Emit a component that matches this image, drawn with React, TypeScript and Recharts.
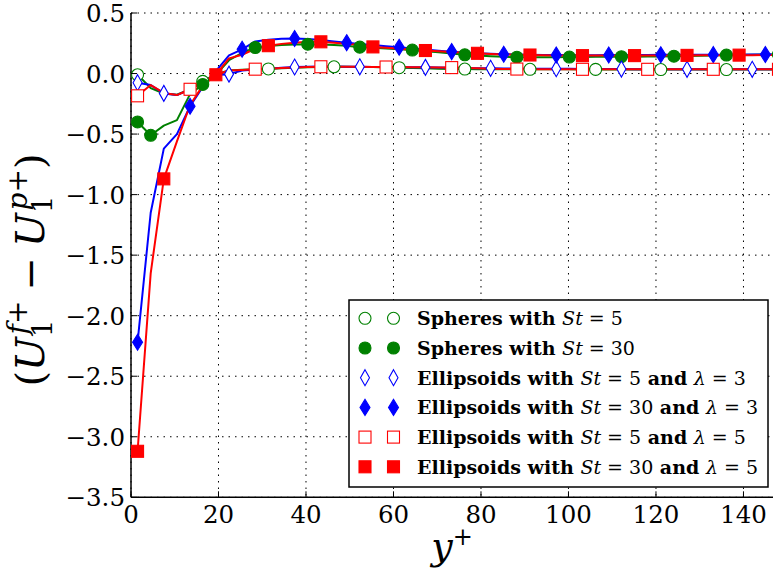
import React from 'react';
import { ComposedChart, Line, Scatter, XAxis, YAxis, CartesianGrid, Customized } from 'recharts';

// Wall-normal positions (y+) of the profile samples
const yPlus = [
  1.5, 4.5, 7.5, 10.5, 13.5, 16.4, 19.4, 22.4, 25.4, 28.4,
  31.4, 34.4, 37.4, 40.4, 43.4, 46.4, 49.3, 52.3, 55.3, 58.3,
  61.3, 64.3, 67.3, 70.3, 73.3, 76.3, 79.2, 82.2, 85.2, 88.2,
  91.2, 94.2, 97.2, 100.2, 103.2, 106.2, 109.2, 112.1, 115.1, 118.1,
  121.1, 124.1, 127.1, 130.1, 133.1, 136.1, 139.0, 142.0, 145.0, 148.0,
];

// Slip velocity (U1f+ - U1p+) for each particle set
const spheresSt5 = [
  -0.010, -0.120, -0.165, -0.175, -0.130, -0.065, -0.005, 0.025, 0.032, 0.035,
  0.038, 0.043, 0.048, 0.052, 0.055, 0.056, 0.056, 0.055, 0.053, 0.050,
  0.048, 0.046, 0.043, 0.040, 0.038, 0.037, 0.036, 0.036, 0.036, 0.036,
  0.035, 0.035, 0.035, 0.035, 0.034, 0.034, 0.034, 0.034, 0.033, 0.033,
  0.033, 0.033, 0.033, 0.033, 0.033, 0.033, 0.033, 0.033, 0.033, 0.033,
];
const spheresSt30 = [
  -0.400, -0.510, -0.430, -0.385, -0.170, -0.090, -0.010, 0.110, 0.170, 0.215,
  0.228, 0.236, 0.240, 0.242, 0.240, 0.236, 0.230, 0.218, 0.212, 0.206,
  0.200, 0.194, 0.185, 0.175, 0.165, 0.155, 0.148, 0.142, 0.138, 0.135,
  0.134, 0.134, 0.135, 0.136, 0.137, 0.138, 0.138, 0.139, 0.139, 0.140,
  0.141, 0.143, 0.145, 0.147, 0.150, 0.153, 0.155, 0.156, 0.157, 0.158,
];
const ellipsoidsSt5L3 = [
  -0.076, -0.095, -0.164, -0.178, -0.131, -0.068, -0.012, -0.005, 0.025, 0.033,
  0.040, 0.047, 0.054, 0.057, 0.058, 0.058, 0.057, 0.056, 0.055, 0.054,
  0.053, 0.052, 0.051, 0.049, 0.047, 0.045, 0.044, 0.043, 0.042, 0.041,
  0.040, 0.040, 0.040, 0.039, 0.038, 0.038, 0.037, 0.037, 0.036, 0.036,
  0.036, 0.035, 0.035, 0.035, 0.035, 0.035, 0.035, 0.035, 0.035, 0.035,
];
const ellipsoidsSt30L3 = [
  -2.220, -1.150, -0.620, -0.500, -0.270, -0.110, 0.020, 0.150, 0.200, 0.265,
  0.280, 0.288, 0.290, 0.285, 0.276, 0.265, 0.255, 0.245, 0.235, 0.226,
  0.217, 0.207, 0.198, 0.189, 0.181, 0.174, 0.168, 0.163, 0.159, 0.157,
  0.155, 0.154, 0.153, 0.153, 0.152, 0.152, 0.153, 0.153, 0.154, 0.154,
  0.155, 0.155, 0.155, 0.156, 0.156, 0.156, 0.156, 0.157, 0.157, 0.157,
];
const ellipsoidsSt5L5 = [
  -0.184, -0.095, -0.160, -0.178, -0.130, -0.068, -0.010, 0.025, 0.030, 0.036,
  0.040, 0.045, 0.050, 0.054, 0.056, 0.057, 0.057, 0.056, 0.055, 0.054,
  0.053, 0.052, 0.051, 0.050, 0.049, 0.046, 0.043, 0.040, 0.038, 0.037,
  0.036, 0.036, 0.035, 0.035, 0.035, 0.035, 0.035, 0.035, 0.035, 0.035,
  0.035, 0.035, 0.035, 0.035, 0.035, 0.035, 0.035, 0.035, 0.035, 0.035,
];
const ellipsoidsSt30L5 = [
  -3.120, -1.650, -0.870, -0.560, -0.260, -0.100, -0.010, 0.125, 0.155, 0.205,
  0.230, 0.245, 0.255, 0.262, 0.262, 0.255, 0.245, 0.235, 0.220, 0.212,
  0.205, 0.197, 0.190, 0.184, 0.178, 0.172, 0.167, 0.162, 0.158, 0.155,
  0.153, 0.151, 0.150, 0.149, 0.148, 0.148, 0.148, 0.148, 0.148, 0.149,
  0.149, 0.150, 0.150, 0.151, 0.151, 0.152, 0.152, 0.152, 0.153, 0.153,
];

// Sample indices that carry a marker
const marksSpheresSt5 = [0, 5, 10, 15, 20, 25, 30, 35, 40, 45];
const marksSpheresSt30 = [0, 1, 5, 9, 13, 17, 21, 25, 29, 33, 37, 41, 45, 49];
const marksEllSt5L3 = [0, 2, 7, 12, 17, 22, 27, 32, 37, 42, 47];
const marksEllSt30L3 = [0, 4, 8, 12, 16, 20, 24, 28, 32, 36, 40, 44, 48];
const marksEllSt5L5 = [0, 4, 9, 14, 19, 24, 29, 34, 39, 44, 49];
const marksEllSt30L5 = [0, 2, 6, 10, 14, 18, 22, 26, 30, 34, 38, 42, 46];

const xTicks = [0, 20, 40, 60, 80, 100, 120, 140];
const yTicks = [-3.5, -3, -2.5, -2, -1.5, -1, -0.5, 0, 0.5];

const GREEN = '#008000';
const BLUE = '#0000ff';
const RED = '#ff0000';
const FONT = 'DejaVu Serif';

type Shape = 'circle' | 'diamond' | 'square';

interface SeriesDef {
  key: string;
  values: number[];
  marks: number[];
  color: string;
  shape: Shape;
  filled: boolean;
  particle: string;
  st: string;
  lambda?: string;
}

const series: SeriesDef[] = [
  { key: 'sSt5', values: spheresSt5, marks: marksSpheresSt5, color: GREEN, shape: 'circle', filled: false, particle: 'Spheres', st: '5' },
  { key: 'sSt30', values: spheresSt30, marks: marksSpheresSt30, color: GREEN, shape: 'circle', filled: true, particle: 'Spheres', st: '30' },
  { key: 'e3St5', values: ellipsoidsSt5L3, marks: marksEllSt5L3, color: BLUE, shape: 'diamond', filled: false, particle: 'Ellipsoids', st: '5', lambda: '3' },
  { key: 'e3St30', values: ellipsoidsSt30L3, marks: marksEllSt30L3, color: BLUE, shape: 'diamond', filled: true, particle: 'Ellipsoids', st: '30', lambda: '3' },
  { key: 'e5St5', values: ellipsoidsSt5L5, marks: marksEllSt5L5, color: RED, shape: 'square', filled: false, particle: 'Ellipsoids', st: '5', lambda: '5' },
  { key: 'e5St30', values: ellipsoidsSt30L5, marks: marksEllSt30L5, color: RED, shape: 'square', filled: true, particle: 'Ellipsoids', st: '30', lambda: '5' },
];

const toRows = (values: number[]) => yPlus.map((x, i) => ({ x, v: values[i] }));

// Layout of the axes box
const CHART_W = 790;
const CHART_H = 570;
const MARGIN = { top: 13, right: 15.9, bottom: 32.7, left: 71 };
const TICK_LEN = 6;

function Marker({ cx, cy, shape, color, filled }: { cx: number; cy: number; shape: Shape; color: string; filled: boolean }) {
  const fill = filled ? color : '#ffffff';
  if (shape === 'circle') {
    return <circle cx={cx} cy={cy} r={6} fill={fill} stroke={color} strokeWidth={1.1} />;
  }
  if (shape === 'diamond') {
    const w = filled ? 5 : 4.5;
    const h = 8;
    return (
      <polygon
        points={`${cx},${cy - h} ${cx + w},${cy} ${cx},${cy + h} ${cx - w},${cy}`}
        fill={fill}
        stroke={color}
        strokeWidth={1.1}
      />
    );
  }
  const s = 6;
  return <rect x={cx - s} y={cy - s} width={2 * s} height={2 * s} fill={fill} stroke={color} strokeWidth={1.1} />;
}

const fmtY = (v: number) => (v < 0 ? '\u2212' : '') + Math.abs(v).toFixed(1);

function BottomTick(props: any) {
  const { x, y, payload } = props;
  return (
    <g>
      <line x1={x} x2={x} y1={y} y2={y - TICK_LEN} stroke="#000" strokeWidth={1} />
      <text x={x} y={y + 26} textAnchor="middle" fontFamily={FONT} fontSize={24.5} fill="#000">
        {String(payload.value)}
      </text>
    </g>
  );
}

function TopTick(props: any) {
  const { x, y } = props;
  return <line x1={x} x2={x} y1={y} y2={y + TICK_LEN} stroke="#000" strokeWidth={1} />;
}

function LeftTick(props: any) {
  const { x, y, payload } = props;
  return (
    <g>
      <line x1={x} x2={x + TICK_LEN} y1={y} y2={y} stroke="#000" strokeWidth={1} />
      <text x={x - 6} y={y + 9} textAnchor="end" fontFamily={FONT} fontSize={24.5} fill="#000">
        {fmtY(payload.value)}
      </text>
    </g>
  );
}

function RightTick(props: any) {
  const { x, y } = props;
  return <line x1={x} x2={x - TICK_LEN} y1={y} y2={y} stroke="#000" strokeWidth={1} />;
}

function LegendText({ s, x, y }: { s: SeriesDef; x: number; y: number }) {
  return (
    <text x={x} y={y} fontFamily={FONT} fontSize={19} fill="#000" style={{ whiteSpace: 'pre' }}>
      <tspan fontWeight="bold">{s.particle + ' with '}</tspan>
      <tspan fontStyle="italic">St</tspan>
      <tspan>{' = ' + s.st}</tspan>
      {s.lambda ? (
        <>
          <tspan fontWeight="bold">{' and '}</tspan>
          <tspan fontStyle="italic">{'\u03bb'}</tspan>
          <tspan>{' = ' + s.lambda}</tspan>
        </>
      ) : null}
    </text>
  );
}

function Decorations() {
  const boxX = 349;
  const boxY = 300;
  const rowY0 = 318.3;
  const rowStep = 29.7;
  return (
    <g>
      {/* y-axis title */}
      <g transform="translate(44,270) rotate(-90)">
        <text x={0} y={0} textAnchor="middle" fontFamily={FONT} fontSize={40} fill="#000" style={{ whiteSpace: 'pre' }}>
          <tspan>(</tspan>
          <tspan fontStyle="italic">U</tspan>
          <tspan fontSize={28} dy={8}>1</tspan>
          <tspan fontSize={28} fontStyle="italic" dx={-15} dy={-25}>f</tspan>
          <tspan fontSize={28}>+</tspan>
          <tspan dx={10} dy={17}>{'\u2212'}</tspan>
          <tspan dx={10} fontStyle="italic">U</tspan>
          <tspan fontSize={28} dy={8}>1</tspan>
          <tspan fontSize={28} fontStyle="italic" dx={-15} dy={-25}>p</tspan>
          <tspan fontSize={28}>+</tspan>
          <tspan dy={17}>)</tspan>
        </text>
      </g>
      {/* x-axis title */}
      <text x={452} y={559} textAnchor="middle" fontFamily={FONT} fontSize={38} fill="#000">
        <tspan fontStyle="italic">y</tspan>
        <tspan fontSize={24} dy={-14}>+</tspan>
      </text>
      {/* legend */}
      <rect x={boxX} y={boxY} width={419} height={187} fill="#ffffff" stroke="#000" strokeWidth={1.5} />
      {series.map((s, i) => {
        const cy = rowY0 + i * rowStep;
        return (
          <g key={s.key}>
            <Marker cx={365} cy={cy} shape={s.shape} color={s.color} filled={s.filled} />
            <Marker cx={393.5} cy={cy} shape={s.shape} color={s.color} filled={s.filled} />
            <LegendText s={s} x={417} y={cy + 7} />
          </g>
        );
      })}
    </g>
  );
}

export default function App() {
  return (
    <div style={{ position: 'absolute', left: 0, top: 0, width: 773, height: 570, overflow: 'hidden', background: '#ffffff' }}>
      <ComposedChart width={CHART_W} height={CHART_H} margin={MARGIN}>
        <CartesianGrid stroke="#000" strokeWidth={1} strokeDasharray="1.5 5" />
        <XAxis
          dataKey="x"
          type="number"
          domain={[0, 147]}
          allowDataOverflow
          ticks={xTicks}
          interval={0}
          height={40}
          tickSize={0}
          tickMargin={0}
          tickLine={false}
          axisLine={{ stroke: '#000', strokeWidth: 1.5 }}
          tick={<BottomTick />}
        />
        <XAxis
          xAxisId="top"
          orientation="top"
          dataKey="x"
          type="number"
          domain={[0, 147]}
          allowDataOverflow
          ticks={xTicks}
          interval={0}
          height={0}
          tickSize={0}
          tickMargin={0}
          tickLine={false}
          axisLine={{ stroke: '#000', strokeWidth: 1.5 }}
          tick={<TopTick />}
        />
        <YAxis
          type="number"
          domain={[-3.5, 0.5]}
          allowDataOverflow
          ticks={yTicks}
          interval={0}
          width={60}
          tickSize={0}
          tickMargin={0}
          tickLine={false}
          axisLine={{ stroke: '#000', strokeWidth: 1.5 }}
          tick={<LeftTick />}
        />
        <YAxis
          yAxisId="right"
          orientation="right"
          type="number"
          domain={[-3.5, 0.5]}
          allowDataOverflow
          ticks={yTicks}
          interval={0}
          width={0}
          tickSize={0}
          tickMargin={0}
          tickLine={false}
          axisLine={{ stroke: '#000', strokeWidth: 1.5 }}
          tick={<RightTick />}
        />
        {series.map((s) => (
          <Line
            key={'line-' + s.key}
            data={toRows(s.values)}
            dataKey="v"
            type="linear"
            stroke={s.color}
            strokeWidth={2}
            strokeLinejoin="round"
            dot={false}
            activeDot={false}
            isAnimationActive={false}
          />
        ))}
        {series.map((s) => (
          <Scatter
            key={'mk-' + s.key}
            data={s.marks.map((k) => ({ x: yPlus[k], v: s.values[k] }))}
            dataKey="v"
            isAnimationActive={false}
            shape={(p: any) => <Marker cx={p.cx} cy={p.cy} shape={s.shape} color={s.color} filled={s.filled} />}
          />
        ))}
        <Customized component={<Decorations />} />
      </ComposedChart>
    </div>
  );
}
